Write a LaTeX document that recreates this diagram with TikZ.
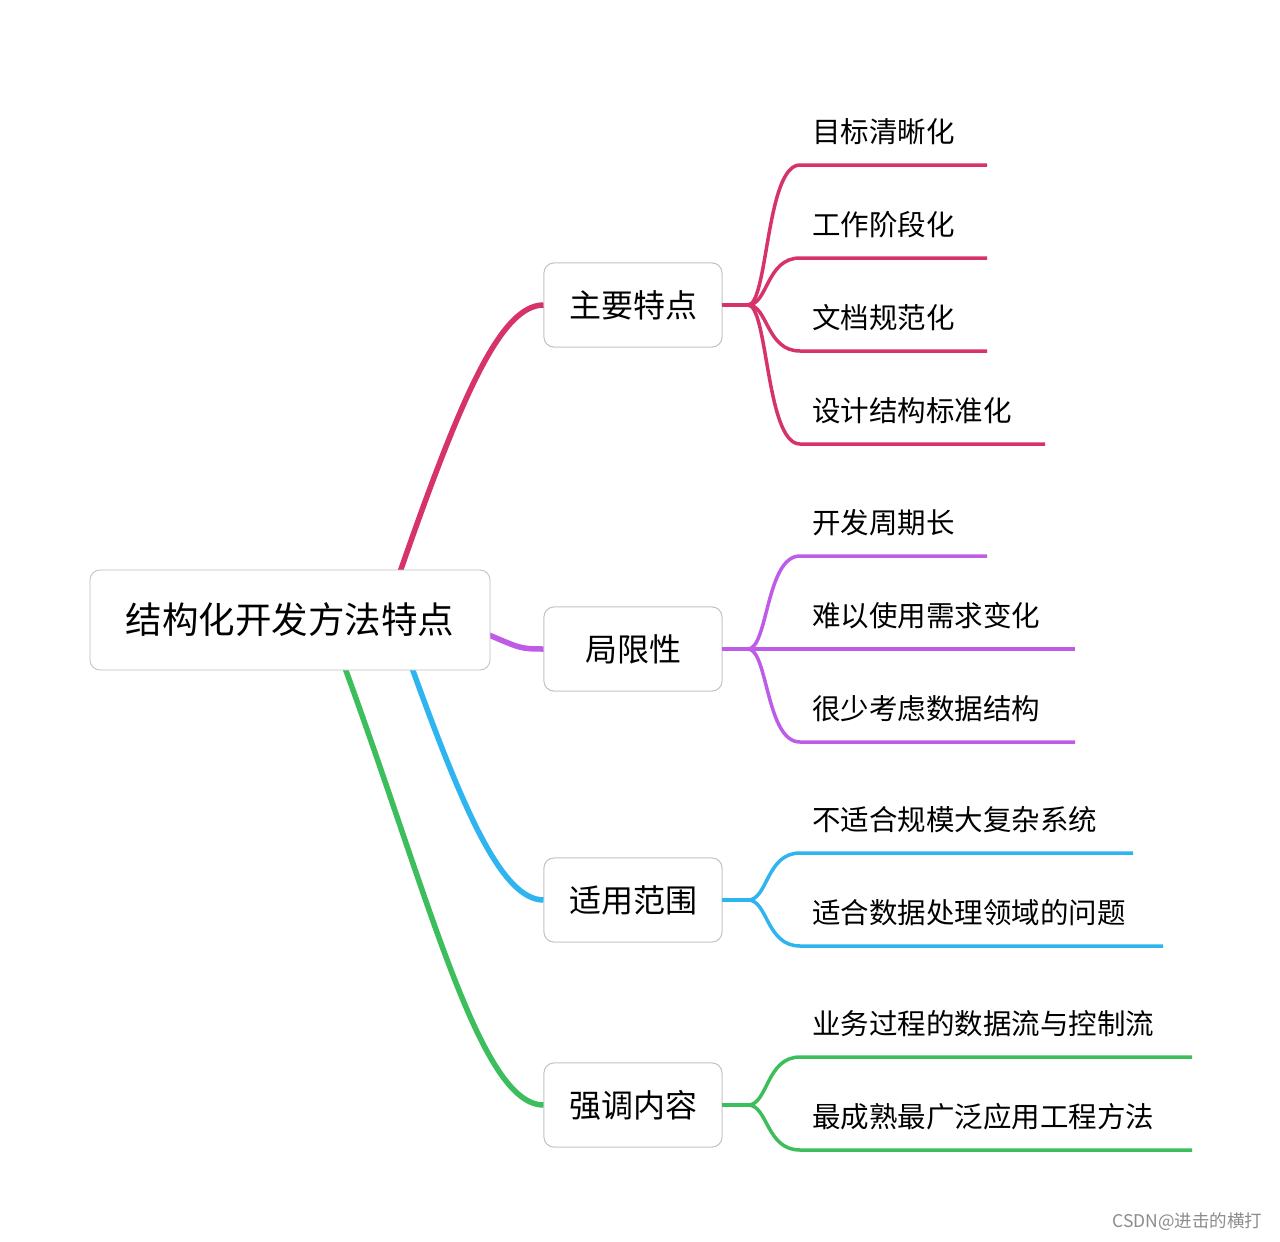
\documentclass[tikz,border=0pt]{standalone}
\usepackage{fontspec}
\setmainfont{Noto Sans CJK SC}
\definecolor{cpink}{HTML}{D63468}
\definecolor{cpurp}{HTML}{BE5CE8}
\definecolor{cblue}{HTML}{2EB5EF}
\definecolor{cgreen}{HTML}{3DBE5C}
\begin{document}
\begin{tikzpicture}[x=1pt,y=-1pt,
  box/.style={draw=black!25,rounded corners=10pt,fill=white,line width=0.8pt,font=\fontsize{32}{36}\selectfont},
  leaf/.style={anchor=base west,inner sep=0pt,font=\fontsize{28.5}{32}\selectfont},
  br/.style={line width=5.5pt},
  lf/.style={line width=3.5pt}]
\useasboundingbox[fill=white] (0,0) rectangle (1280,1242);
\coordinate (r1) at (400,572);
\coordinate (r2) at (489,635);
\coordinate (r3) at (412,668);
\coordinate (r4) at (345,668);
\node[box,minimum width=178pt,minimum height=84pt] (b1) at (633,305) {主要特点};
\node[box,minimum width=178pt,minimum height=84pt] (b2) at (633,649) {局限性};
\node[box,minimum width=178pt,minimum height=84pt] (b3) at (633,900) {适用范围};
\node[box,minimum width=178pt,minimum height=84pt] (b4) at (633,1105) {强调内容};
\draw[br,cpink] (r1) .. controls (460,400) and (500,305) .. (b1.west);
\draw[br,cpurp] (r2) .. controls (520,648) and (520,649) .. (b2.west);
\draw[br,cblue] (r3) .. controls (460,800) and (500,900) .. (b3.west);
\draw[br,cgreen] (r4) .. controls (430,900) and (480,1105) .. (b4.west);
\node[box,minimum width=400pt,minimum height=100pt,font=\fontsize{36.5}{40}\selectfont] (root) at (290,620) {结构化开发方法特点};
\node[box,minimum width=178pt,minimum height=84pt] at (633,305) {主要特点};
\node[box,minimum width=178pt,minimum height=84pt] at (633,649) {局限性};
\node[box,minimum width=178pt,minimum height=84pt] at (633,900) {适用范围};
\node[box,minimum width=178pt,minimum height=84pt] at (633,1105) {强调内容};
\newcommand{\lvs}[3]{%
  \coordinate (s) at (748,#2);
  \draw[lf,#1] (722,#2) -- (s);
  \foreach \yy/\xe/\tx in {#3} {
    \coordinate (e) at (800,\yy);
    \coordinate (f) at (\xe,\yy);
    \draw[lf,#1] (s) .. controls (768,#2) and (766,\yy) .. (e) -- (f);
    \node[leaf] at (812,\yy-23) {\tx};
  }}
\lvs{cpink}{305}{165/987/目标清晰化,258/987/工作阶段化,351/987/文档规范化,444/1045/设计结构标准化}
\lvs{cpurp}{649}{556/987/开发周期长,649/1075/难以使用需求变化,742/1075/很少考虑数据结构}
\lvs{cblue}{900}{853/1133/不适合规模大复杂系统,946/1163/适合数据处理领域的问题}
\lvs{cgreen}{1105}{1057/1192/业务过程的数据流与控制流,1150/1192/最成熟最广泛应用工程方法}
\node[anchor=east,text=black!45,font=\fontsize{17.5}{20}\selectfont] (wm) at (1266,1222) {CSDN@进击的横打};
\end{tikzpicture}
\end{document}
